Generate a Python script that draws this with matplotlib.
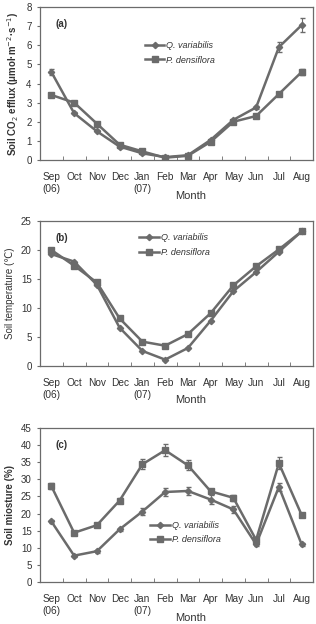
import numpy as np
import matplotlib
matplotlib.use("Agg")
from matplotlib import pyplot as plt
from matplotlib.lines import Line2D

# data
months = ["Sep\n(06)", "Oct", "Nov", "Dec", "Jan\n(07)", "Feb", "Mar", "Apr", "May", "Jun", "Jul", "Aug"]

co2_q = [4.6, 2.45, 1.5, 0.7, 0.35, 0.15, 0.25, 1.05, 2.1, 2.75, 5.9, 7.05]
co2_q_err = [0.15, 0.05, 0.05, 0.05, 0.05, 0.03, 0.03, 0.05, 0.05, 0.08, 0.25, 0.35]
co2_p = [3.4, 3.0, 1.9, 0.8, 0.45, 0.12, 0.22, 0.95, 2.0, 2.3, 3.45, 4.6]
co2_p_err = [0.08, 0.06, 0.06, 0.04, 0.04, 0.03, 0.03, 0.04, 0.05, 0.05, 0.08, 0.15]

temp_q = [19.3, 18.0, 14.0, 6.6, 2.6, 1.1, 3.1, 7.8, 12.9, 16.2, 19.7, 23.2]
temp_p = [20.0, 17.3, 14.4, 8.2, 4.2, 3.5, 5.5, 9.1, 13.9, 17.2, 20.1, 23.2]

moist_q = [17.7, 7.7, 9.0, 15.4, 20.6, 26.3, 26.6, 24.1, 21.2, 11.0, 27.8, 11.0]
moist_q_err = [0.5, 0.3, 0.4, 0.5, 1.0, 1.2, 1.3, 1.2, 1.0, 0.5, 1.2, 0.4]
moist_p = [28.0, 14.4, 16.6, 23.8, 34.4, 38.5, 34.1, 26.5, 24.6, 12.3, 34.7, 19.6]
moist_p_err = [0.8, 0.4, 0.4, 0.6, 1.5, 1.8, 1.5, 0.8, 0.9, 0.6, 1.8, 0.5]

grey = "#6b6b6b"
txt = "#333333"
plt.rcParams['font.family'] = ['Liberation Sans', 'DejaVu Sans']

fig = plt.figure(figsize=(3.16, 6.24), dpi=100)
W, H = 316, 624


def make_axes(top, bottom):
    return fig.add_axes([40 / W, (H - bottom) / H, 273 / W, (bottom - top) / H])


def style(ax, ymax, ystep, label, bold, tag):
    x = np.arange(len(months))
    ax.set_xlim(-0.5, len(months) - 0.5)
    ax.set_ylim(0, ymax)
    ax.set_yticks(np.arange(0, ymax + 0.01, ystep))
    ax.set_xticks(x)
    ax.set_xticklabels(months, fontsize=7.3, color=txt, va='top')
    ax.set_xticks(np.arange(-0.5, len(months), 1), minor=True)
    ax.tick_params(axis='x', which='major', length=0, pad=9)
    ax.tick_params(axis='x', which='minor', length=3, direction='in', color=grey)
    ax.tick_params(axis='y', labelsize=7, labelcolor=txt, length=2, direction='out', color=grey, pad=4)
    for s in ax.spines.values():
        s.set_color(grey)
        s.set_linewidth(0.9)
    ax.set_ylabel(label, fontsize=7, color=txt, fontweight='bold' if bold else 'normal', labelpad=4)
    ax.text(0.055, 0.92, tag, transform=ax.transAxes, fontsize=7, fontweight='bold',
            color=txt, va='top')
    ax.text(0.55, -0.2, "Month", transform=ax.transAxes, fontsize=8, color=txt,
            ha='center', va='top')


def draw(ax, q, p, qe=None, pe=None, legloc=None):
    x = np.arange(len(months))
    ax.errorbar(x, q, yerr=qe, color=grey, lw=1.8, marker='D', ms=3.2,
                capsize=1.8, elinewidth=0.8)
    ax.errorbar(x, p, yerr=pe, color=grey, lw=1.8, marker='s', ms=5,
                capsize=1.8, elinewidth=0.8)
    handles = [Line2D([], [], color=grey, lw=1.8, marker='D', ms=3.2),
               Line2D([], [], color=grey, lw=1.8, marker='s', ms=5)]
    leg = ax.legend(handles, ['Q. variabilis', 'P. densiflora'], loc='upper left',
                    bbox_to_anchor=legloc, frameon=False,
                    fontsize=6.5, handlelength=2.2, handletextpad=0.2,
                    labelspacing=0.6, borderaxespad=0)
    for t in leg.get_texts():
        t.set_fontstyle('italic')
        t.set_color(txt)


ax1 = make_axes(7, 160)
draw(ax1, co2_q, co2_p, co2_q_err, co2_p_err, legloc=(0.37, 0.8))
style(ax1, 8, 1, "Soil CO$_2$ efflux (\u03bcmol\u00b7m$^{-2}$\u00b7s$^{-1}$)", True, "(a)")

ax2 = make_axes(221, 366)
draw(ax2, temp_q, temp_p, legloc=(0.35, 0.94))
style(ax2, 25, 5, "Soil temperature (\u2103)", False, "(b)")

ax3 = make_axes(428, 582)
draw(ax3, moist_q, moist_p, moist_q_err, moist_p_err, legloc=(0.39, 0.42))
style(ax3, 45, 5, "Soil miosture (%)", True, "(c)")

fig.savefig("out.png", dpi=100)
